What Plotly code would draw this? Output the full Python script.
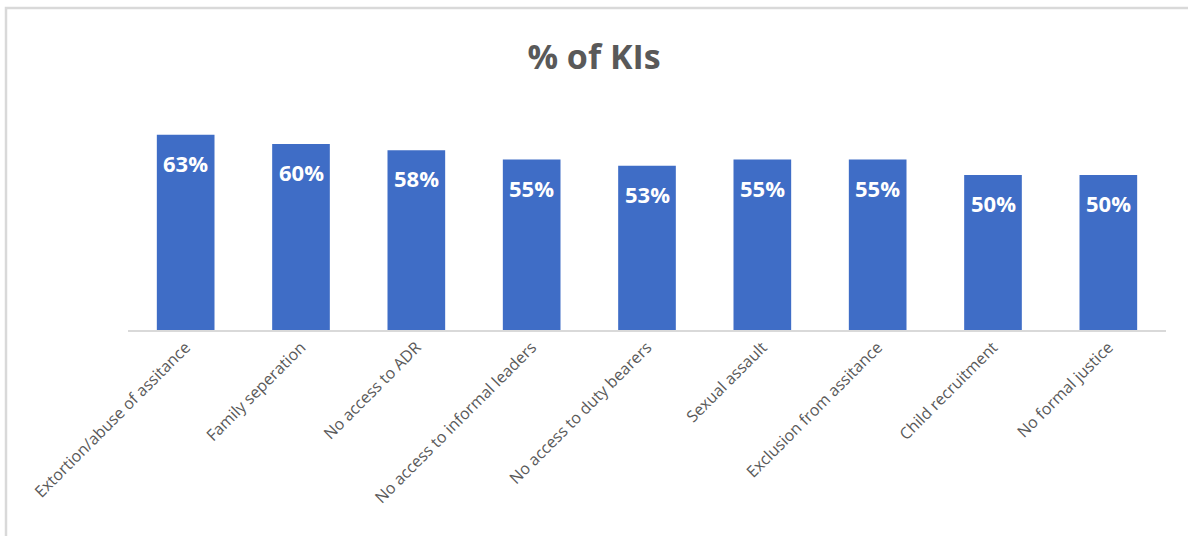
import plotly.graph_objects as go

categories = ["Extortion/abuse of assitance", "Family seperation", "No access to ADR",
              "No access to informal leaders", "No access to duty bearers", "Sexual assault",
              "Exclusion from assitance", "Child recruitment", "No formal justice"]
values = [0.63, 0.60, 0.58, 0.55, 0.53, 0.55, 0.55, 0.50, 0.50]
labels = ["63%", "60%", "58%", "55%", "53%", "55%", "55%", "50%", "50%"]

W, H = 1188, 536
L, R, T, B = 128, 22, 113, 206
pw, ph = W - L - R, H - T - B

def px(x):
    return (x - L) / pw

def py(y):
    return (H - B - y) / ph

fig = go.Figure()
fig.add_trace(go.Bar(
    x=categories, y=values,
    marker=dict(color="#3F6DC6", line=dict(width=0)),
    hoverinfo="skip",
))

for c, v, t in zip(categories, values, labels):
    fig.add_annotation(x=c, y=v, xref="x", yref="y", text=f"<b>{t}</b>",
                       showarrow=False, yanchor="middle", yshift=-28,
                       font=dict(family="Open Sans", size=22, color="white"))

fig.add_shape(type="rect", xref="paper", yref="paper",
              x0=px(6), x1=px(1195), y0=py(8), y1=py(545),
              line=dict(color="#D9D9D9", width=2.5), layer="below")

fig.update_layout(
    width=W, height=H,
    margin=dict(l=L, r=R, t=T, b=B),
    paper_bgcolor="white", plot_bgcolor="white",
    showlegend=False,
    bargap=0.5,
    title=dict(text="<b>% of KIs</b>", x=0.5, xanchor="center", y=1 - 57 / H, yanchor="middle",
               font=dict(family="Open Sans", size=34, color="#595959")),
    xaxis=dict(tickangle=-45, showgrid=False, showline=True, linecolor="#D9D9D9", linewidth=1.5,
               ticks="", tickfont=dict(family="Open Sans", size=16, color="#595959"),
               fixedrange=True),
    yaxis=dict(range=[0, 0.70], visible=False, fixedrange=True),
)
fig.update_layout(title_xref="container")

fig.write_html("out.html")
